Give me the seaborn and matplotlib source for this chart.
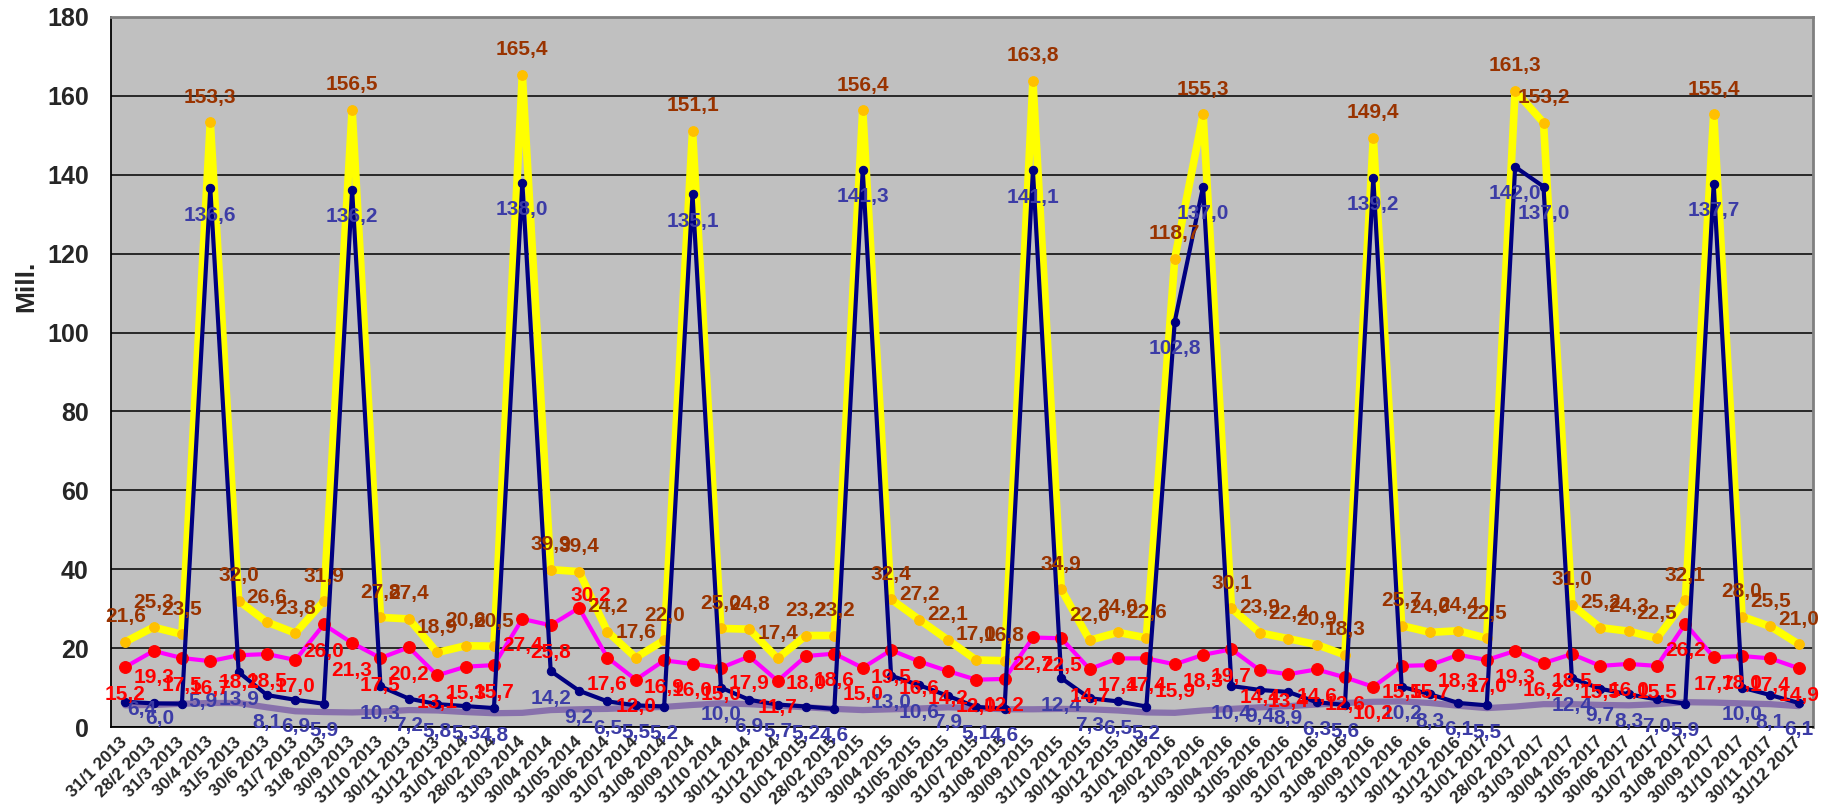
import numpy as np
import pandas as pd
import matplotlib
matplotlib.use("Agg")
import matplotlib.pyplot as plt
import seaborn as sns

# Kategorier (måneder)
datoer = [
    "31/1 2013", "28/2 2013", "31/3 2013", "30/4 2013", "31/5 2013", "30/6 2013",
    "31/7 2013", "31/8 2013", "30/9 2013", "31/10 2013", "30/11 2013", "31/12 2013",
    "31/01 2014", "28/02 2014", "31/03 2014", "30/04 2014", "31/05 2014", "30/06 2014",
    "31/07 2014", "31/08 2014", "30/09 2014", "31/10 2014", "30/11 2014", "31/12 2014",
    "01/01 2015", "28/02 2015", "31/03 2015", "30/04 2015", "31/05 2015", "30/06 2015",
    "31/07 2015", "31/08 2015", "30/09 2015", "31/10 2015", "30/11 2015", "30/12 2015",
    "31/01 2016", "29/02 2016", "31/03 2016", "30/04 2016", "31/05 2016", "30/06 2016",
    "31/07 2016", "31/08 2016", "30/09 2016", "31/10 2016", "30/11 2016", "31/12 2016",
    "31/01 2017", "28/02 2017", "31/03 2017", "30/04 2017", "31/05 2017", "30/06 2017",
    "31/07 2017", "31/08 2017", "30/09 2017", "31/10 2017", "30/11 2017", "31/12 2017",
]

# Gul serie (brune etiketter)
gul = [21.6, 25.3, 23.5, 153.3, 32.0, 26.6, 23.8, 31.9, 156.5, 27.8, 27.4, 18.9,
       20.6, 20.5, 165.4, 39.9, 39.4, 24.2, 17.6, 22.0, 151.1, 25.0, 24.8, 17.4,
       23.2, 23.2, 156.4, 32.4, 27.2, 22.1, 17.0, 16.8, 163.8, 34.9, 22.0, 24.0,
       22.6, 118.7, 155.3, 30.1, 23.9, 22.4, 20.9, 18.3, 149.4, 25.7, 24.0, 24.4,
       22.5, 161.3, 153.2, 31.0, 25.2, 24.3, 22.5, 32.1, 155.4, 28.0, 25.5, 21.0]

# Mørkeblå serie (blå etiketter)
blaa = [6.4, 6.0, 5.9, 136.6, 13.9, 8.1, 6.9, 5.9, 136.2, 10.3, 7.2, 5.8,
        5.3, 4.8, 138.0, 14.2, 9.2, 6.5, 5.5, 5.2, 135.1, 10.0, 6.9, 5.7,
        5.2, 4.6, 141.3, 13.0, 10.6, 7.9, 5.1, 4.6, 141.1, 12.4, 7.3, 6.5,
        5.2, 102.8, 137.0, 10.4, 9.4, 8.9, 6.3, 5.6, 139.2, 10.2, 8.3, 6.1,
        5.5, 142.0, 137.0, 12.4, 9.7, 8.3, 7.0, 5.9, 137.7, 10.0, 8.1, 6.1]

# Magenta serie (røde etiketter)
roed = [15.2, 19.3, 17.5, 16.7, 18.2, 18.5, 17.0, 26.0, 21.3, 17.5, 20.2, 13.1,
        15.3, 15.7, 27.4, 25.8, 30.2, 17.6, 12.0, 16.9, 16.0, 15.0, 17.9, 11.7,
        18.0, 18.6, 15.0, 19.5, 16.6, 14.2, 12.0, 12.2, 22.7, 22.5, 14.7, 17.4,
        17.4, 15.9, 18.3, 19.7, 14.4, 13.4, 14.6, 12.6, 10.2, 15.5, 15.7, 18.3,
        17.0, 19.3, 16.2, 18.5, 15.5, 16.0, 15.5, 26.2, 17.7, 18.0, 17.4, 14.9]

# Lilla serie (uten etiketter, avlest)
lilla = [5.5, 5.6, 5.9, 6.1, 6.1, 5.0, 4.0, 3.8, 3.7, 3.9, 4.3, 4.2,
         3.8, 3.5, 3.6, 4.3, 4.5, 4.6, 4.9, 5.1, 5.6, 6.0, 5.8, 5.4,
         5.0, 4.6, 4.3, 4.5, 4.7, 5.0, 4.8, 4.5, 4.5, 4.6, 4.5, 4.2,
         3.7, 3.6, 4.2, 4.6, 5.0, 5.3, 5.7, 6.1, 6.4, 6.5, 6.1, 5.4,
         4.8, 5.2, 5.8, 5.8, 5.6, 5.5, 5.8, 6.3, 6.2, 6.0, 5.8, 5.3]

df = pd.DataFrame({"x": np.arange(len(datoer)), "gul": gul, "blaa": blaa,
                   "roed": roed, "lilla": lilla})

sns.set_style("white")
plt.rcParams["font.family"] = ["Liberation Sans", "DejaVu Sans"]

fig, ax = plt.subplots(figsize=(18.35, 8.08), dpi=100)
fig.subplots_adjust(left=0.0605, right=0.988, top=0.979, bottom=0.1002)
ax.set_facecolor("#C0C0C0")

sns.lineplot(data=df, x="x", y="lilla", ax=ax, color="#7B5EA7", linewidth=4.5,
             alpha=0.8, zorder=2)
sns.lineplot(data=df, x="x", y="gul", ax=ax, color="#FFFF00", linewidth=5.5,
             marker="o", markersize=7, markerfacecolor="#FFC000",
             markeredgecolor="#FFC000", zorder=3)
sns.lineplot(data=df, x="x", y="roed", ax=ax, color="#FF00FF", linewidth=3,
             marker="o", markersize=8.5, markerfacecolor="#FF0000",
             markeredgecolor="#FF0000", zorder=4)
sns.lineplot(data=df, x="x", y="blaa", ax=ax, color="#000080", linewidth=3,
             marker="o", markersize=6, markerfacecolor="#000080",
             markeredgecolor="#000080", zorder=5)


def fmt(v):
    return "{:.1f}".format(v).replace(".", ",")


def etiketter(verdier, farge, dy, flytt=None):
    flytt = flytt or {}
    for i, v in enumerate(verdier):
        dx, ddy = flytt.get(i, (0, dy))
        ax.annotate(fmt(v), (i, v), xytext=(dx, ddy), textcoords="offset pixels",
                    ha="center", va="center", fontsize=15, fontweight="bold",
                    color=farge, zorder=10)


etiketter(gul, "#993300", 25)
etiketter(blaa, "#3C3CA6", -27, {0: (17, -8), 1: (6, -15), 2: (21, 2)})
etiketter(roed, "#FF0000", -27, {16: (12, 12)})

ax.set_xlim(-0.5, len(datoer) - 0.5)
ax.set_ylim(0, 180)
ax.set_yticks(range(0, 181, 20))
ax.yaxis.grid(True, color="black", linewidth=1.1)
ax.set_axisbelow(True)

ax.set_xticks(df["x"])
ax.set_xticklabels(datoer, rotation=45, ha="right", va="center",
                   rotation_mode="anchor", fontsize=12.5, fontweight="bold")
ax.set_xticks(np.arange(-0.5, len(datoer), 1), minor=True)
ax.tick_params(axis="x", which="major", length=0, pad=9)
ax.tick_params(axis="x", which="minor", length=5, width=1, color="black",
               direction="out")
ax.tick_params(axis="y", length=6, width=1, color="black", direction="out",
               pad=10, labelsize=18)
for t in ax.get_yticklabels():
    t.set_fontweight("bold")

ax.set_xlabel("")
ax.set_ylabel("")
fig.text(26 / 1835, 1 - 286 / 808, "Mill.", rotation=90, fontsize=19,
         fontweight="bold", ha="center", va="center")

for s in ["left", "bottom"]:
    ax.spines[s].set_color("black")
    ax.spines[s].set_linewidth(1.3)
for s in ["top", "right"]:
    ax.spines[s].set_color("#808080")
    ax.spines[s].set_linewidth(2)

plt.savefig("out.png", dpi=100)
